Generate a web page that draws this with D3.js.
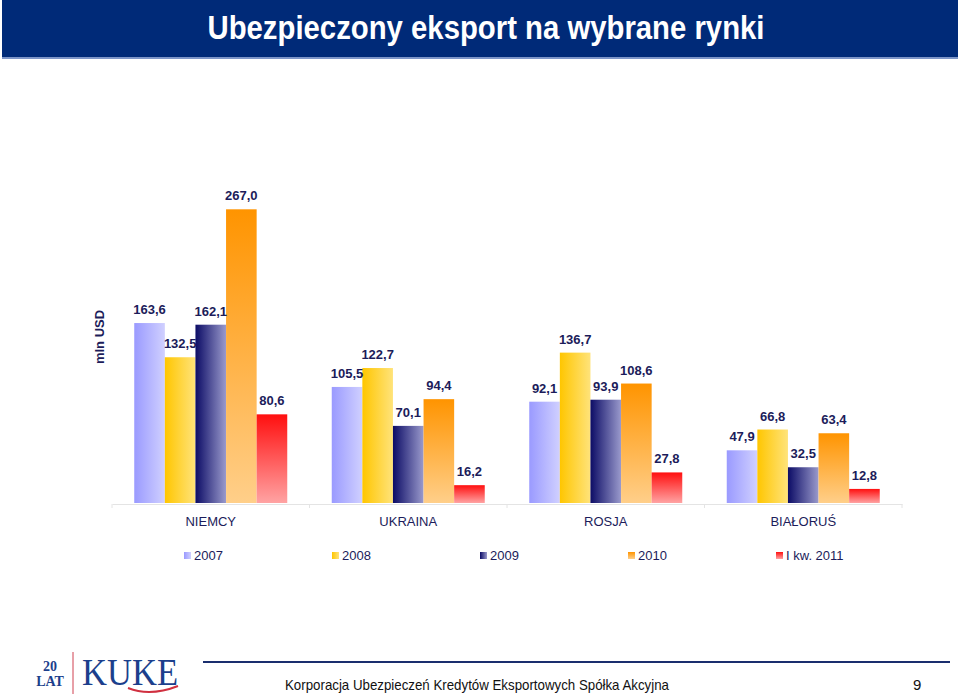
<!DOCTYPE html>
<html>
<head>
<meta charset="utf-8">
<script src="https://cdn.jsdelivr.net/npm/d3@7/dist/d3.min.js"></script>
<style>
  body { margin: 0; background: #fff; }
  svg { display: block; font-family: "Liberation Sans", Arial, sans-serif; }
</style>
</head>
<body>
<div id="chart"></div>
<script>
// chart data
const categories = ['NIEMCY', 'UKRAINA', 'ROSJA', 'BIAŁORUŚ'];
const seriesNames = ['2007', '2008', '2009', '2010', 'I kw. 2011'];
const v2007 = [163.6, 105.5, 92.1, 47.9];
const v2008 = [132.5, 122.7, 136.7, 66.8];
const v2009 = [162.1, 70.1, 93.9, 32.5];
const v2010 = [267.0, 94.4, 108.6, 63.4];
const v2011 = [80.6, 16.2, 27.8, 12.8];
const seriesValues = [v2007, v2008, v2009, v2010, v2011];

const W = 960, H = 696;
const navy = '#1c1c5a';

const svg = d3.select('#chart').append('svg')
    .attr('width', W)
    .attr('height', H);

// gradients per series
const defs = svg.append('defs');
const grads = [
    { id: 'g0', dir: 'h', from: '#9a9aff', to: '#d0d0ff' },
    { id: 'g1', dir: 'h', from: '#ffc600', to: '#ffe37a' },
    { id: 'g2', dir: 'h', from: '#0c0c66', to: '#9a9acc' },
    { id: 'g3', dir: 'v', from: '#ff9400', to: '#ffcf8a' },
    { id: 'g4', dir: 'v', from: '#ff0f0f', to: '#ffa3a3' }
];
grads.forEach(g => {
    const lg = defs.append('linearGradient')
        .attr('id', g.id)
        .attr('x1', 0).attr('y1', 0)
        .attr('x2', g.dir === 'h' ? 1 : 0)
        .attr('y2', g.dir === 'h' ? 0 : 1);
    lg.append('stop').attr('offset', '0%').attr('stop-color', g.from);
    lg.append('stop').attr('offset', '100%').attr('stop-color', g.to);
});

// title bar
svg.append('rect')
    .attr('x', 2).attr('y', 0)
    .attr('width', 956).attr('height', 57)
    .attr('fill', '#002a78');
svg.append('rect')
    .attr('x', 2).attr('y', 57)
    .attr('width', 956).attr('height', 2)
    .attr('fill', '#7d95c8');
svg.append('text')
    .attr('x', 486).attr('y', 39)
    .attr('text-anchor', 'middle')
    .attr('fill', '#fff')
    .attr('font-size', 33)
    .attr('font-weight', 'bold')
    .attr('textLength', 557)
    .attr('lengthAdjust', 'spacingAndGlyphs')
    .text('Ubezpieczony eksport na wybrane rynki');

// scales
const baseY = 503;
const x0 = d3.scaleBand().domain(categories).range([112, 902]);
const groupW = 153;
const x1 = d3.scaleBand().domain(seriesNames).range([0, groupW]);
const y = d3.scaleLinear().domain([0, 300]).range([baseY, baseY - 330]);

// axis
const xAxis = svg.append('g')
    .attr('transform', `translate(0,${baseY + 1})`)
    .call(d3.axisBottom(x0).tickSize(0).tickFormat(''));
xAxis.select('.domain').attr('stroke', '#e4e4e4');
svg.append('g').selectAll('line')
    .data(d3.range(categories.length + 1))
    .join('line')
    .attr('x1', i => 112 + i * x0.step())
    .attr('x2', i => 112 + i * x0.step())
    .attr('y1', baseY + 1).attr('y2', baseY + 5)
    .attr('stroke', '#e4e4e4');

svg.append('g').selectAll('text')
    .data(categories)
    .join('text')
    .attr('x', d => x0(d) + x0.bandwidth() / 2)
    .attr('y', 526)
    .attr('text-anchor', 'middle')
    .attr('font-size', 13)
    .attr('fill', navy)
    .text(d => d);

// bars
const groups = svg.append('g').selectAll('g')
    .data(categories)
    .join('g')
    .attr('transform', d => `translate(${x0(d) + (x0.bandwidth() - groupW) / 2},0)`);

groups.each(function(cat, ci) {
    const g = d3.select(this);
    const rows = seriesNames.map((s, si) => ({ s, si, v: seriesValues[si][ci] }));
    g.selectAll('rect')
        .data(rows)
        .join('rect')
        .attr('x', d => x1(d.s))
        .attr('y', d => y(d.v))
        .attr('width', x1.bandwidth())
        .attr('height', d => baseY - y(d.v))
        .attr('fill', d => `url(#g${d.si})`);
    g.selectAll('text')
        .data(rows)
        .join('text')
        .attr('x', d => x1(d.s) + x1.bandwidth() / 2)
        .attr('y', d => y(d.v) - 9)
        .attr('text-anchor', 'middle')
        .attr('font-size', 13)
        .attr('font-weight', 'bold')
        .attr('fill', navy)
        .text(d => d3.format('.1f')(d.v).replace('.', ','));
});

// y axis title
svg.append('text')
    .attr('transform', 'translate(104,337) rotate(-90)')
    .attr('text-anchor', 'middle')
    .attr('font-size', 13)
    .attr('font-weight', 'bold')
    .attr('fill', navy)
    .text('mln USD');

// legend
const legend = svg.append('g').selectAll('g')
    .data(seriesNames)
    .join('g')
    .attr('transform', (d, i) => `translate(${184 + i * 148},552)`);
legend.append('rect')
    .attr('width', 7).attr('height', 7)
    .attr('fill', (d, i) => `url(#g${i})`);
legend.append('text')
    .attr('x', 10).attr('y', 8)
    .attr('font-size', 13)
    .attr('fill', navy)
    .text(d => d);

// footer
svg.append('line')
    .attr('x1', 203).attr('x2', 950)
    .attr('y1', 662).attr('y2', 662)
    .attr('stroke', '#1a2e6e')
    .attr('stroke-width', 2);
svg.append('text')
    .attr('x', 285).attr('y', 690)
    .attr('font-size', 15)
    .attr('fill', '#111')
    .attr('textLength', 384)
    .attr('lengthAdjust', 'spacingAndGlyphs')
    .text('Korporacja Ubezpieczeń Kredytów Eksportowych Spółka Akcyjna');
svg.append('text')
    .attr('x', 913).attr('y', 690)
    .attr('font-size', 15)
    .attr('fill', '#111')
    .text('9');

// logo
const logo = svg.append('g').attr('font-family', '"Liberation Serif", "DejaVu Serif", serif').attr('fill', '#1c3f8c');
logo.append('text').attr('x', 50).attr('y', 671).attr('text-anchor', 'middle')
    .attr('font-size', 14).attr('font-weight', 'bold').text('20');
logo.append('text').attr('x', 50).attr('y', 686).attr('text-anchor', 'middle')
    .attr('font-size', 14).attr('font-weight', 'bold').text('LAT');
logo.append('line')
    .attr('x1', 73).attr('x2', 73).attr('y1', 652).attr('y2', 694)
    .attr('stroke', '#d04050').attr('stroke-width', 1);
logo.append('text').attr('x', 82).attr('y', 685)
    .attr('font-size', 38)
    .attr('textLength', 96)
    .attr('lengthAdjust', 'spacingAndGlyphs')
    .text('KUKE');
logo.append('path')
    .attr('d', 'M128,688 Q150,697 178,686')
    .attr('fill', 'none')
    .attr('stroke', '#d03040')
    .attr('stroke-width', 2);
</script>
</body>
</html>
